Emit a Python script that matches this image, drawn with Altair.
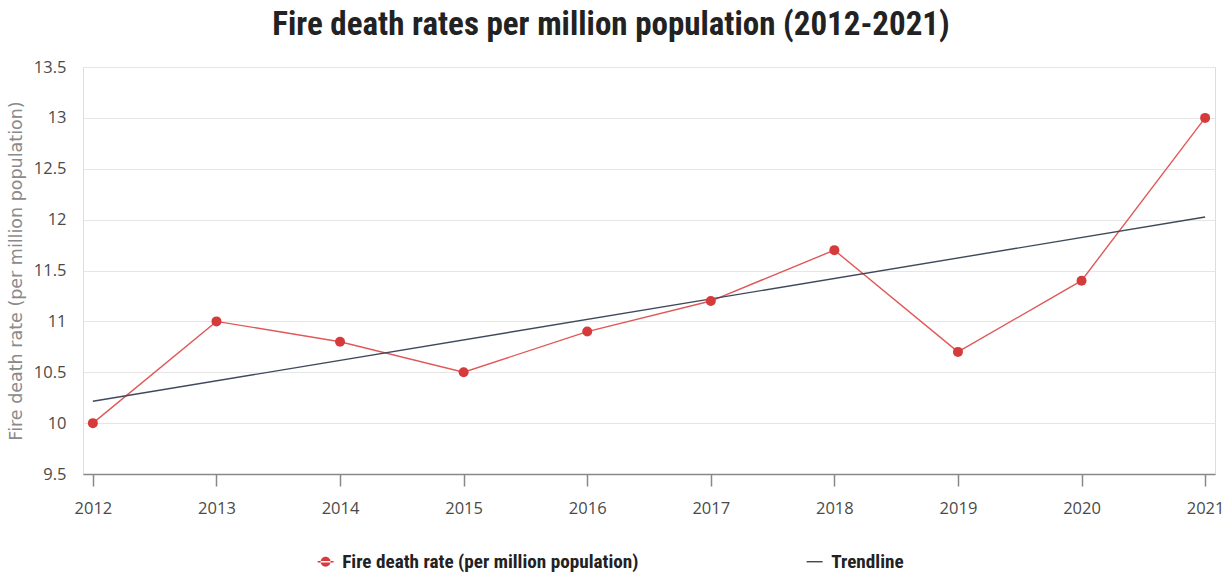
import altair as alt
import pandas as pd

# Fire death rates per million population, 2012-2021
years = [2012, 2013, 2014, 2015, 2016, 2017, 2018, 2019, 2020, 2021]
rates = [10.0, 11.0, 10.8, 10.5, 10.9, 11.2, 11.7, 10.7, 11.4, 13.0]

series_names = ["Fire death rate (per million population)", "Trendline"]
series_colors = ["#d63b3b", "#3e4a5c"]
line_red = "#e05858"

y_ticks = [9.5, 10, 10.5, 11, 11.5, 12, 12.5, 13, 13.5]

df = pd.DataFrame({"year": years, "rate": rates, "series": series_names[0]})
# one row per series, used only to build the legend (kept outside the clipped view)
legend_df = pd.DataFrame({"year": [years[0], years[0]], "rate": [0.0, 0.0], "series": series_names})

# legend glyphs in unit coordinates: a short line with a dot, and a plain line
glyph_dot_line = "M-1,-0.09H1V0.09H-1Z M-0.62,0A0.62,0.62 0 1,0 0.62,0A0.62,0.62 0 1,0 -0.62,0Z"
glyph_line = "M-1,-0.09H1V0.09H-1Z"

FONT = "Open Sans, DejaVu Sans, sans-serif"
WIDE = "DejaVu Sans, sans-serif"
NARROW = "Roboto Condensed, Noto Sans Condensed, Open Sans Condensed, Liberation Sans Narrow, DejaVu Sans Condensed, sans-serif"

x_enc = alt.X(
    "year:O",
    scale=alt.Scale(type="point", padding=0.08),
    axis=alt.Axis(
        title=None, labelAngle=0, grid=False,
        domainColor="#888888", domainWidth=1.5,
        tickColor="#888888", tickWidth=1.5, tickSize=12,
        labelPadding=14, labelFontSize=16.5, labelColor="#4a4a4a", labelFont=FONT,
    ),
)
y_scale = alt.Scale(domain=[9.5, 13.5], nice=False, zero=False)
y_enc = alt.Y(
    "rate:Q",
    scale=y_scale,
    axis=alt.Axis(
        title="Fire death rate (per million population)",
        values=y_ticks, format=".1~f", domain=False, ticks=False,
        gridColor="#e6e6e6", gridWidth=1.2,
        labelPadding=17, labelFontSize=16.5, labelColor="#4a4a4a", labelFont=FONT,
        titleFont=WIDE, titleFontSize=17.5, titleFontWeight="normal", titleColor="#8a8a8a",
        titlePadding=8,
    ),
)

base = alt.Chart(df)

fire_line = base.mark_line(color=line_red, strokeWidth=1.4).encode(x=x_enc, y=y_enc)

trend = base.transform_regression("year", "rate").mark_line(
    color=series_colors[1], strokeWidth=1.4
).encode(x="year:O", y="rate:Q")

fire_points = base.mark_point(filled=True, size=100, opacity=1, color=series_colors[0]).encode(
    x="year:O", y="rate:Q"
)

legend_spec = alt.Legend(
    title=None, orient="none", direction="horizontal",
    legendX=233, legendY=485, padding=0,
    symbolSize=256, symbolStrokeWidth=0,
    labelFont=NARROW, labelFontSize=19.2, labelFontWeight="bold", labelColor="#222222",
    labelLimit=600, labelOffset=7, columnPadding=166,
)

legend_layer = alt.Chart(legend_df).mark_point(filled=True, opacity=1, size=100, clip=True).encode(
    x="year:O",
    y="rate:Q",
    color=alt.Color("series:N", scale=alt.Scale(domain=series_names, range=series_colors), legend=legend_spec),
    shape=alt.Shape(
        "series:N",
        scale=alt.Scale(domain=series_names, range=[glyph_dot_line, glyph_line]),
        legend=legend_spec,
    ),
)

chart = (
    alt.layer(fire_line, trend, fire_points, legend_layer)
    .properties(
        width=1132,
        height=407,
        title=alt.TitleParams(
            "Fire death rates per million population (2012-2021)",
            font=NARROW, fontSize=33, fontWeight="bold", color="#222222",
            anchor="middle", dx=-38, offset=17,
        ),
        autosize=alt.AutoSizeParams(type="none"),
        padding={"left": 83, "top": 67, "right": 8, "bottom": 100},
    )
    .configure_view(stroke=None)
    .configure(background="white")
)

chart.save("out.html", embed_options={"renderer": "svg", "actions": False})
